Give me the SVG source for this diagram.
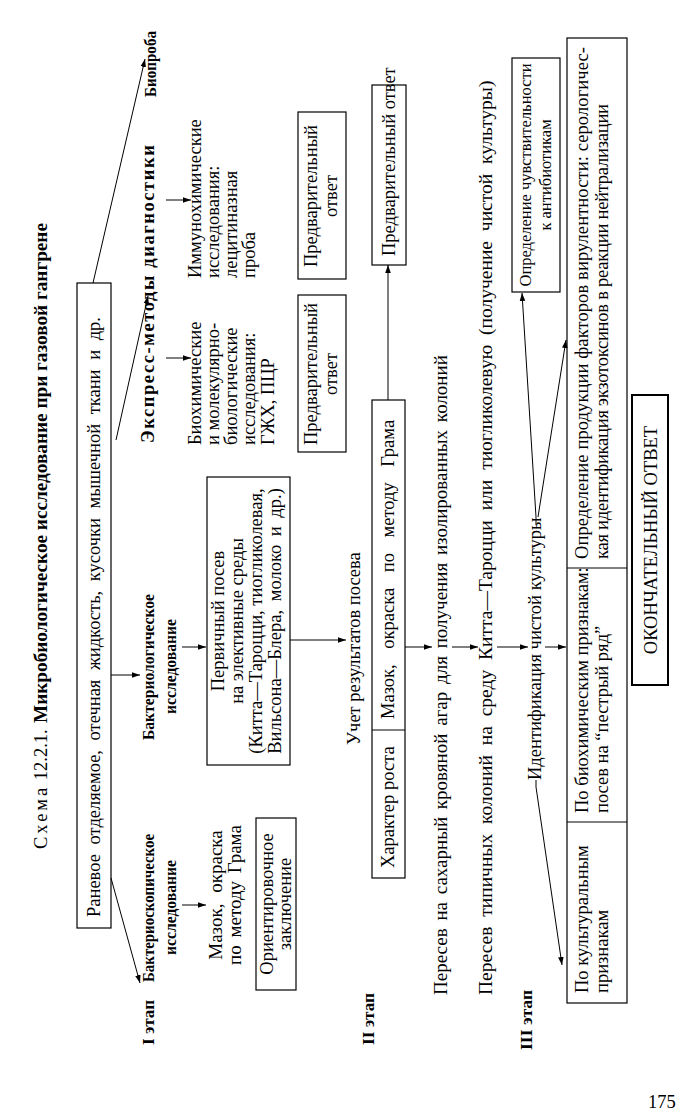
<svg xmlns="http://www.w3.org/2000/svg" width="683" height="1117" viewBox="0 0 683 1117">
<defs>
<marker id="ah" viewBox="0 0 10 10" refX="10" refY="5" markerWidth="8" markerHeight="8" orient="auto" markerUnits="userSpaceOnUse"><path d="M0,1.5 L10,5 L0,8.5 z" fill="#000"/></marker>
<style>
text{font-family:"Liberation Serif","Times New Roman",serif;font-size:18.5px;fill:#000}
.b{font-weight:bold;font-size:17.5px}
.m{text-anchor:middle}
.box{fill:none;stroke:#000;stroke-width:1.2}
.ln{fill:none;stroke:#000;stroke-width:1}
.ar{fill:none;stroke:#000;stroke-width:1;marker-end:url(#ah)}
</style>
</defs>
<rect width="683" height="1117" fill="#fff"/>
<g transform="translate(0,1117) rotate(-90)">
<g id="title"><text x="268" y="47"><tspan letter-spacing="3">Схема</tspan> 12.2.1.</text><text x="394" y="47" style="font-weight:bold" textLength="500" lengthAdjust="spacingAndGlyphs">Микробиологическое исследование при газовой гангрене</text></g>
<g id="source"><rect class="box" x="189" y="77" width="645" height="34"/><text x="200" y="100" word-spacing="5">Раневое отделяемое, отечная жидкость, кусочки мышечной ткани и др.</text></g>
<g id="stage1"><text class="b" x="72" y="154" textLength="45" lengthAdjust="spacingAndGlyphs">I этап</text></g>
<g id="bacterioscopy"><text class="b" x="135" y="154" textLength="148" lengthAdjust="spacingAndGlyphs">Бактериоскопическое</text><text class="b" x="162" y="176" textLength="95" lengthAdjust="spacingAndGlyphs">исследование</text></g>
<g id="bacteriology"><text class="b" x="377" y="154" textLength="146" lengthAdjust="spacingAndGlyphs">Бактериологическое</text><text class="b" x="403" y="176" textLength="95" lengthAdjust="spacingAndGlyphs">исследование</text></g>
<g id="express"><text class="b" x="674" y="154" style="font-size:18.5px" textLength="298" lengthAdjust="spacing">Экспресс-методы диагностики</text></g>
<g id="bioproba"><text class="b" x="1020" y="156" textLength="66" lengthAdjust="spacingAndGlyphs">Биопроба</text></g>
<g id="smear1"><text class="m" x="222" y="222" style="font-size:19px" word-spacing="6">Мазок, окраска</text><text class="m" x="222" y="241" style="font-size:19px" word-spacing="3">по методу Грама</text></g>
<g id="orient"><rect class="box" x="127" y="256" width="172" height="40"/><text class="m" x="213" y="273">Ориентировочное</text><text class="m" x="213" y="291">заключение</text></g>
<g id="primary"><rect class="box" x="352" y="207" width="288" height="83"/><text class="m" x="496" y="224">Первичный посев</text><text class="m" x="496" y="243">на элективные среды</text><text class="m" x="496" y="262">(Китта—Тароцци, тиогликолевая,</text><text class="m" x="496" y="281" word-spacing="4">Вильсона—Блера, молоко и др.)</text></g>
<g id="biochem"><text x="672" y="201">Биохимические</text><text x="672" y="219">и молекулярно-</text><text x="672" y="237">биологические</text><text x="672" y="255">исследования:</text><text x="672" y="274">ГЖХ, ПЦР</text></g>
<g id="immuno"><text x="839" y="201">Иммунохимические</text><text x="839" y="219">исследования:</text><text x="839" y="237">лецитиназная</text><text x="839" y="255">проба</text></g>
<g id="prelim1"><rect class="box" x="665" y="298" width="157" height="48"/><text class="m" x="743" y="317">Предварительный</text><text class="m" x="743" y="337">ответ</text></g>
<g id="prelim2"><rect class="box" x="838" y="298" width="167" height="48"/><text class="m" x="921" y="317">Предварительный</text><text class="m" x="921" y="337">ответ</text></g>
<g id="stage2"><text class="b" x="72" y="374" textLength="52" lengthAdjust="spacingAndGlyphs">II этап</text></g>
<g id="account"><text x="372" y="360">Учет результатов посева</text></g>
<g id="growth"><rect class="box" x="239" y="372" width="478" height="33"/><line class="ln" x1="387" y1="372" x2="387" y2="405"/><text x="249" y="394">Характер роста</text><text x="398" y="394" word-spacing="11">Мазок, окраска по методу Грама</text></g>
<g id="prelim3"><rect class="box" x="852" y="372" width="180" height="34"/><text x="861" y="395">Предварительный ответ</text></g>
<g id="reseed1"><text x="122" y="447" style="font-size:19px" word-spacing="3">Пересев на сахарный кровяной агар для получения изолированных колоний</text></g>
<g id="reseed2"><text x="122" y="492" style="font-size:19.5px" word-spacing="5">Пересев типичных колоний на среду Китта—Тароцци или тиогликолевую (получение чистой культуры)</text></g>
<g id="stage3"><text class="b" x="67" y="532" textLength="60" lengthAdjust="spacingAndGlyphs">III этап</text></g>
<g id="ident"><text x="337" y="541">Идентификация чистой культуры</text></g>
<g id="sensitivity"><rect class="box" x="825" y="512" width="234" height="48"/><text class="m" x="942" y="531" style="font-size:16.5px">Определение чувствительности</text><text class="m" x="942" y="551" style="font-size:16.5px">к антибиотикам</text></g>
<g id="identbox"><rect class="box" x="114" y="567" width="965" height="60"/><line class="ln" x1="295" y1="567" x2="295" y2="627"/><line class="ln" x1="549" y1="567" x2="549" y2="627"/><text x="124" y="588">По культуральным</text><text x="124" y="608">признакам</text><text x="304" y="588">По биохимическим признакам:</text><text x="304" y="608">посев на “пестрый ряд”</text><text x="558" y="588" textLength="512" lengthAdjust="spacing">Определение продукции факторов вирулентности: серологичес-</text><text x="558" y="608" textLength="455" lengthAdjust="spacing">кая идентификация экзотоксинов в реакции нейтрализации</text></g>
<g id="final"><rect x="432" y="632" width="290" height="36" fill="none" stroke="#000" stroke-width="2"/><text class="m" x="577" y="657">ОКОНЧАТЕЛЬНЫЙ ОТВЕТ</text></g>
<g id="connectors">
<line class="ar" x1="239" y1="111" x2="134" y2="140"/>
<line class="ar" x1="442" y1="111" x2="442" y2="140"/>
<line class="ar" x1="677" y1="116" x2="821" y2="148"/>
<line class="ar" x1="834" y1="93" x2="1058" y2="145"/>
<line class="ar" x1="212" y1="182" x2="212" y2="206"/>
<line class="ar" x1="470" y1="182" x2="470" y2="206"/>
<line class="ar" x1="759" y1="166" x2="759" y2="191"/>
<line class="ar" x1="917" y1="166" x2="917" y2="191"/>
<line class="ar" x1="477" y1="290" x2="477" y2="346"/>
<line class="ar" x1="717" y1="388" x2="852" y2="388"/>
<line class="ar" x1="470" y1="405" x2="470" y2="432"/>
<line class="ar" x1="470" y1="452" x2="470" y2="478"/>
<line class="ar" x1="470" y1="497" x2="470" y2="528"/>
<line class="ar" x1="470" y1="545" x2="470" y2="566"/>
<polyline class="ar" points="337,536 330,536 152,562"/>
<polyline class="ar" points="592,536 600,536 824,522"/>
<line class="ar" x1="600" y1="538" x2="777" y2="566"/>
</g>
</g>
<text x="648" y="1108">175</text>
</svg>
